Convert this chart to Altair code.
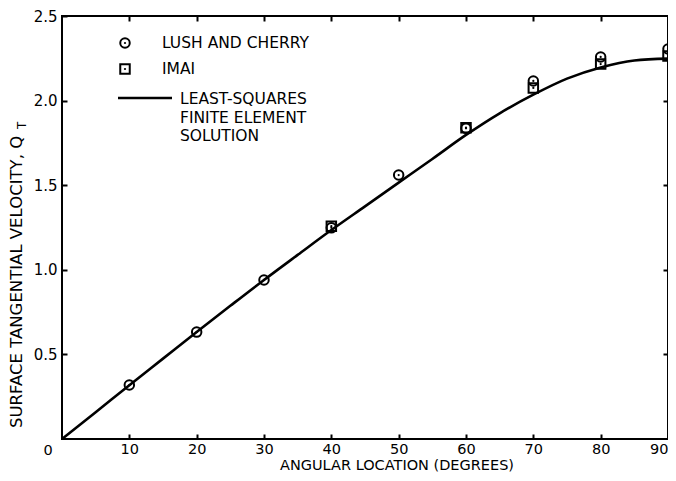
import altair as alt
import pandas as pd

# ---- data ----
line_angle = [0, 5, 10, 15, 20, 25, 30, 35, 40, 45, 50, 55, 60, 65, 70, 75, 80, 85, 90]
line_qt = [0, 0.158, 0.318, 0.475, 0.632, 0.787, 0.94, 1.088, 1.235, 1.375, 1.515,
           1.655, 1.797, 1.925, 2.035, 2.13, 2.196, 2.237, 2.248]

lush_angle = [10, 20, 30, 40, 50, 60, 70, 80, 90]
lush_qt = [0.319, 0.632, 0.94, 1.248, 1.56, 1.836, 2.116, 2.258, 2.305]

imai_angle = [40, 60, 70, 80, 90]
imai_qt = [1.258, 1.84, 2.075, 2.216, 2.264]

x_ticks = [10, 20, 30, 40, 50, 60, 70, 80, 90]
x_top_ticks = [10, 20, 30, 40, 50, 60, 70, 80]
y_ticks = [0.5, 1.0, 1.5, 2.0, 2.5]
y_right_ticks = [0.5, 1.0, 1.5, 2.0]

x_title = "ANGULAR LOCATION (DEGREES)"
y_title = "SURFACE TANGENTIAL VELOCITY, Q"
y_title_sub = "T"
legend_labels = ["LUSH AND CHERRY", "IMAI", "LEAST-SQUARES\nFINITE ELEMENT\nSOLUTION"]
origin_label = ["0"]

FONT = "DejaVu Sans"
W, H = 606, 423

line_df = pd.DataFrame({"angle": line_angle, "qt": line_qt})
lush_df = pd.DataFrame({"angle": lush_angle, "qt": lush_qt})
imai_df = pd.DataFrame({"angle": imai_angle, "qt": imai_qt})

xs = alt.Scale(domain=[0, 90], nice=False, zero=True)
ys = alt.Scale(domain=[0, 2.5], nice=False, zero=True)

common_axis = dict(tickSize=5, tickWidth=2, tickColor="black", domain=False, grid=False,
                   offset=-5, title=None, labelFont=FONT, labelFontSize=15,
                   labelColor="black", labelOverlap=False)

frame = alt.Chart(pd.DataFrame({"k": [0]})).mark_rect(
    filled=False, stroke="black", strokeWidth=2).encode(
    x=alt.value(0), x2=alt.value(W), y=alt.value(0), y2=alt.value(H))

bottom_axis = dict(common_axis, labelFontSize=14.5)

line = alt.Chart(line_df).mark_line(color="black", strokeWidth=2.6,
                                    interpolate="monotone").encode(
    x=alt.X("angle:Q", scale=xs,
            axis=alt.Axis(orient="bottom", values=x_ticks, format="d",
                          labelPadding=3, labelFlush=True, **bottom_axis)),
    y=alt.Y("qt:Q", scale=ys,
            axis=alt.Axis(orient="left", values=y_ticks, format=".1f",
                          labelPadding=5, labelFlush=False, **common_axis)),
)

lush = alt.Chart(lush_df).mark_point(shape="circle", filled=False, color="black",
                                      size=90, strokeWidth=2, opacity=1).encode(
    x=alt.X("angle:Q", scale=xs,
            axis=alt.Axis(orient="top", values=x_top_ticks, labels=False,
                          **common_axis)),
    y=alt.Y("qt:Q", scale=ys,
            axis=alt.Axis(orient="right", values=y_right_ticks, labels=False,
                          **common_axis)),
)
lush_dot = alt.Chart(lush_df).mark_point(shape="circle", filled=True, color="black",
                                          size=5, opacity=1).encode(
    x=alt.X("angle:Q", scale=xs, axis=None),
    y=alt.Y("qt:Q", scale=ys, axis=None),
)

imai = alt.Chart(imai_df).mark_point(shape="square", filled=False, color="black",
                                      size=90, strokeWidth=2, opacity=1).encode(
    x=alt.X("angle:Q", scale=xs, axis=None),
    y=alt.Y("qt:Q", scale=ys, axis=None),
)
imai_dot = alt.Chart(imai_df).mark_point(shape="circle", filled=True, color="black",
                                          size=5, opacity=1).encode(
    x=alt.X("angle:Q", scale=xs, axis=None),
    y=alt.Y("qt:Q", scale=ys, axis=None),
)

origin = alt.Chart(pd.DataFrame({"angle": [0], "qt": [0], "t": origin_label})).mark_text(
    font=FONT, fontSize=14.5, color="black", align="center", baseline="middle",
    dx=-14, dy=12).encode(
    x=alt.X("angle:Q", scale=xs, axis=None),
    y=alt.Y("qt:Q", scale=ys, axis=None),
    text="t:N",
)

def txt(s, x, y, **kw):
    return alt.Chart(pd.DataFrame({"t": [s]})).mark_text(
        font=FONT, color="black", **kw).encode(
        x=alt.value(x), y=alt.value(y), text="t:N")

xtitle = txt(x_title, 335, 453.5, fontSize=14.5, align="center", baseline="alphabetic")
ytitle = txt(y_title, -45.5, 412, fontSize=16.5, align="left", baseline="middle", angle=270)
ysub = txt(y_title_sub, -40.5, 113, fontSize=12, align="left", baseline="middle", angle=270)

# legend
leg_circle = alt.Chart(pd.DataFrame({"k": [0]})).mark_point(
    shape="circle", filled=False, color="black", size=90, strokeWidth=2, opacity=1).encode(
    x=alt.value(63), y=alt.value(27))
leg_circle_dot = alt.Chart(pd.DataFrame({"k": [0]})).mark_point(
    shape="circle", filled=True, color="black", size=5, opacity=1).encode(
    x=alt.value(63), y=alt.value(27))
leg_square = alt.Chart(pd.DataFrame({"k": [0]})).mark_point(
    shape="square", filled=False, color="black", size=90, strokeWidth=2, opacity=1).encode(
    x=alt.value(63), y=alt.value(53))
leg_square_dot = alt.Chart(pd.DataFrame({"k": [0]})).mark_point(
    shape="circle", filled=True, color="black", size=5, opacity=1).encode(
    x=alt.value(63), y=alt.value(53))
leg_line = alt.Chart(pd.DataFrame({"k": [0]})).mark_rule(
    color="black", strokeWidth=2.4).encode(
    x=alt.value(56), x2=alt.value(110), y=alt.value(82))
leg_t1 = txt(legend_labels[0], 100, 27, fontSize=15.5, align="left", baseline="middle")
leg_t2 = txt(legend_labels[1], 100, 53, fontSize=15.5, align="left", baseline="middle")
leg_t3 = txt(legend_labels[2], 118, 88, fontSize=15.5, align="left",
             baseline="alphabetic", lineBreak="\n", lineHeight=18.5)

chart = alt.layer(
    frame, line, lush, lush_dot, imai, imai_dot, origin, xtitle, ytitle, ysub,
    leg_circle, leg_circle_dot, leg_square, leg_square_dot, leg_line,
    leg_t1, leg_t2, leg_t3,
).resolve_axis(x="independent", y="independent").properties(
    width=W, height=H,
    autosize=alt.AutoSizeParams(type="none"),
    padding={"left": 54, "top": 8, "right": 0, "bottom": 34},
).configure_view(stroke=None).configure(background="white")

chart.save("out.html", embed_options={"renderer": "svg", "actions": False})
